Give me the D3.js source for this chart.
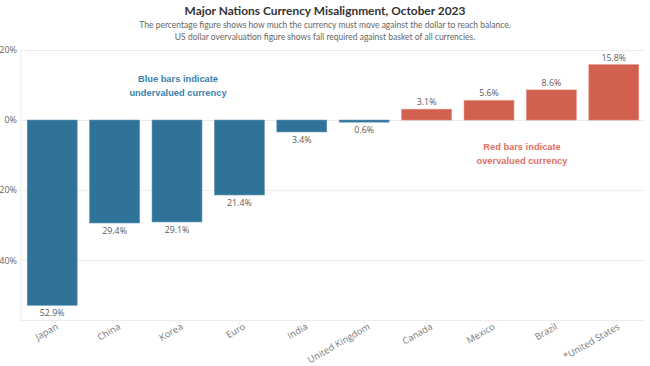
<!DOCTYPE html>
<html>
<head>
<meta charset="utf-8">
<script src="https://cdn.jsdelivr.net/npm/d3@7"></script>
<style>
  body { margin: 0; background: #fff; }
  svg { display: block; }
</style>
</head>
<body>
<svg id="chart" width="650" height="366"></svg>
<script>
  "use strict";

  // data
  var countries = ['Japan', 'China', 'Korea', 'Euro', 'India', 'United Kingdom',
    'Canada', 'Mexico', 'Brazil', '*United States'];
  var misalignment = [-52.9, -29.4, -29.1, -21.4, -3.4, -0.6, 3.1, 5.6, 8.6, 15.8];
  var yTicks = [20, 0, -20, -40];

  var titleText = 'Major Nations Currency Misalignment, October 2023';
  var subtitleLines = [
    'The percentage figure shows how much the currency must move against the dollar to reach balance.',
    'US dollar overvaluation figure shows fall required against basket of all currencies.'
  ];
  var blueNote = ['Blue bars indicate', 'undervalued currency'];
  var redNote = ['Red bars indicate', 'overvalued currency'];

  var colors = {
    under: '#2f7399',
    over: '#d2604f',
    underText: '#3b7fae',
    overText: '#e0705f',
    grid: '#ececec',
    label: '#5a5a5a'
  };

  var plot = { left: 21, right: 645, top: 50, bottom: 320 };

  var svg = d3.select('#chart');

  var x = d3.scaleBand()
    .domain(countries)
    .range([plot.left, plot.right])
    .paddingInner(0.2)
    .paddingOuter(0.1);

  var y = d3.scaleLinear()
    .domain([-57.1, 20])
    .range([plot.bottom, plot.top]);

  // title
  svg.append('text')
    .attr('x', 325).attr('y', 15)
    .attr('text-anchor', 'middle')
    .style('font-family', 'Lato, sans-serif')
    .style('font-weight', 'bold')
    .style('font-size', '11.9px')
    .style('fill', '#333')
    .text(titleText);

  svg.selectAll('text.subtitle')
    .data(subtitleLines)
    .enter().append('text')
    .attr('class', 'subtitle')
    .attr('x', 325)
    .attr('y', function(d, i) { return 28 + i * 11.5; })
    .attr('text-anchor', 'middle')
    .style('font-family', 'Lato, sans-serif')
    .style('font-size', '8.5px')
    .style('fill', '#666')
    .text(function(d) { return d; });

  // y grid + labels (the picture shows no minus sign)
  var yAxis = svg.append('g')
    .attr('transform', 'translate(' + plot.left + ',0)')
    .call(d3.axisLeft(y)
      .tickValues(yTicks)
      .tickSize(-(plot.right - plot.left))
      .tickPadding(4)
      .tickFormat(function(d) { return Math.abs(d) + '%'; }));
  yAxis.select('.domain').remove();
  yAxis.selectAll('.tick line').attr('stroke', colors.grid);
  yAxis.selectAll('.tick text')
    .style('font-family', '"Open Sans", sans-serif')
    .style('font-size', '9px')
    .style('fill', '#666');

  // left edge line of the plot
  svg.append('line')
    .attr('x1', plot.left).attr('x2', plot.left)
    .attr('y1', plot.top).attr('y2', plot.bottom)
    .attr('stroke', colors.grid);

  // x axis
  var xAxis = svg.append('g')
    .attr('transform', 'translate(0,' + plot.bottom + ')')
    .call(d3.axisBottom(x).tickSize(5).tickSizeOuter(0));
  xAxis.select('.domain').attr('stroke', colors.grid)
    .attr('d', 'M' + plot.left + ',0.5H' + plot.right);
  xAxis.selectAll('.tick line').attr('stroke', colors.grid);
  xAxis.selectAll('.tick text')
    .attr('text-anchor', 'end')
    .attr('transform', 'translate(0,-3) rotate(-30)')
    .attr('dy', '0.35em')
    .attr('y', 10)
    .attr('x', 0)
    .style('font-family', '"Open Sans", sans-serif')
    .style('font-size', '9.3px')
    .style('fill', '#777');

  // bars
  var rows = countries.map(function(c, i) { return { name: c, value: misalignment[i] }; });

  svg.append('g').selectAll('rect')
    .data(rows)
    .enter().append('rect')
    .attr('x', function(d) { return x(d.name); })
    .attr('width', x.bandwidth())
    .attr('y', function(d) { return y(Math.max(0, d.value)); })
    .attr('height', function(d) { return Math.abs(y(d.value) - y(0)); })
    .attr('fill', function(d) { return d.value < 0 ? colors.under : colors.over; })
    .attr('stroke', function(d) { return d.value < 0 ? '#5b93b5' : '#e08a7c'; })
    .attr('stroke-width', 0.6);

  // value labels
  svg.append('g').selectAll('text')
    .data(rows)
    .enter().append('text')
    .attr('x', function(d) { return x(d.name) + x.bandwidth() / 2; })
    .attr('y', function(d) { return d.value < 0 ? y(d.value) + 11 : y(d.value) - 4; })
    .attr('text-anchor', 'middle')
    .style('font-family', '"Open Sans", sans-serif')
    .style('font-size', '8.8px')
    .style('fill', colors.label)
    .text(function(d) { return Math.abs(d.value).toFixed(1) + '%'; });

  // annotations
  function note(lines, cx, top, color) {
    svg.append('g').selectAll('text')
      .data(lines)
      .enter().append('text')
      .attr('x', cx)
      .attr('y', function(d, i) { return top + i * 14; })
      .attr('text-anchor', 'middle')
      .style('font-family', '"Liberation Sans", Arial, sans-serif')
      .style('font-weight', 'bold')
      .style('font-size', '9.3px')
      .style('fill', color)
      .text(function(d) { return d; });
  }
  note(blueNote, 178, 82, colors.underText);
  note(redNote, 522, 150, colors.overText);
</script>
</body>
</html>
